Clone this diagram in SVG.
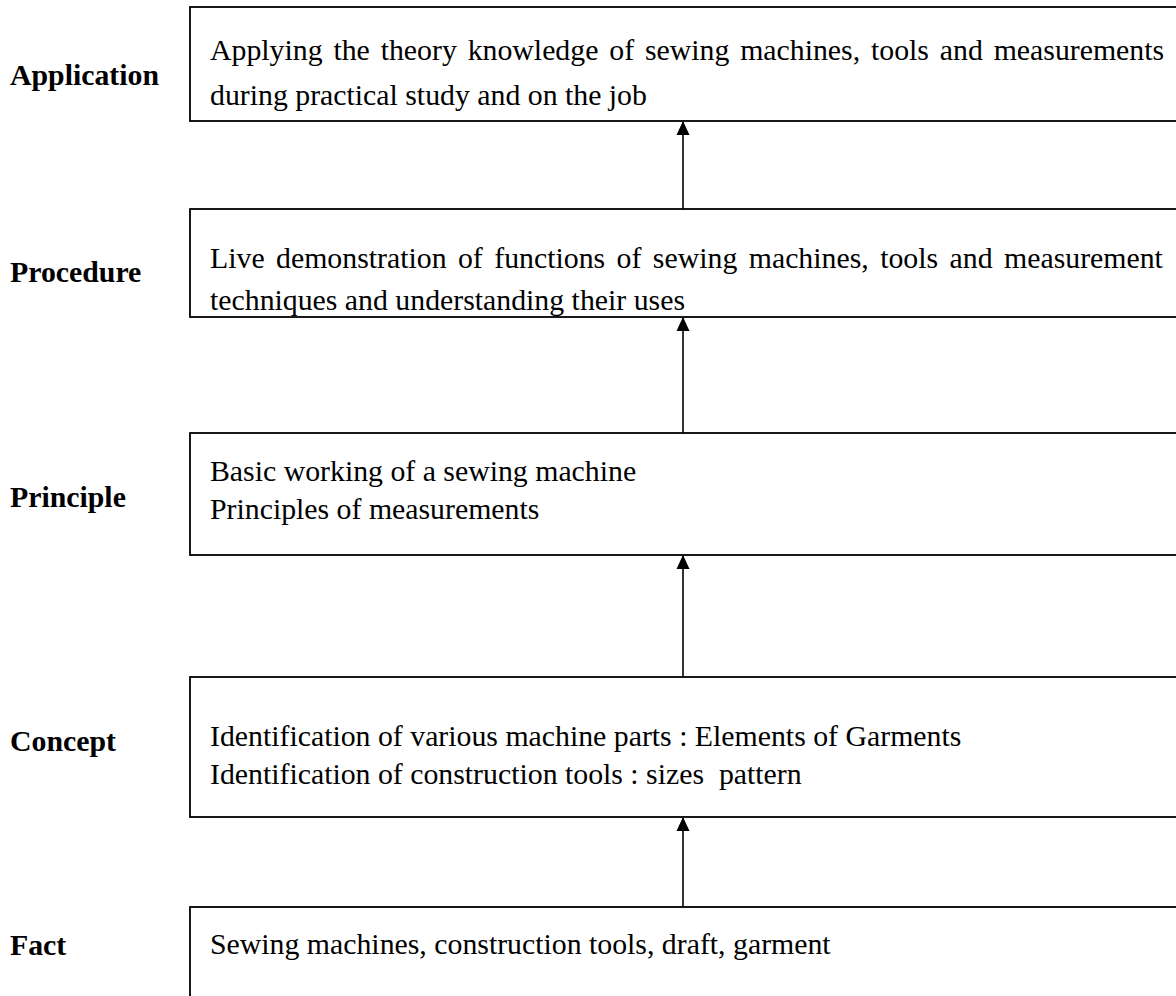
<svg xmlns="http://www.w3.org/2000/svg" width="1176" height="996" viewBox="0 0 1176 996">
<style>
.box{fill:#fff;stroke:#000;stroke-width:1.8}
.lbl{font-family:"Liberation Serif","Times New Roman",serif;font-weight:bold;font-size:29.8px;fill:#000}
.txt{font-family:"Liberation Serif","Times New Roman",serif;font-size:29.8px;fill:#000}
.conn{stroke:#000;stroke-width:1.6;fill:none}
</style>
<defs>
<marker id="ah" markerWidth="14" markerHeight="15" refX="14" refY="7" orient="auto" markerUnits="userSpaceOnUse" viewBox="0 0 15 14">
<path d="M0,0 L15,7 L0,14 z" fill="#000"/>
</marker>
<clipPath id="c2"><rect x="190" y="209" width="990" height="107"/></clipPath>
</defs>
<rect width="1176" height="996" fill="#fff"/>
<g id="application">
<rect class="box" x="190" y="7" width="1000" height="114"/>
<text class="lbl" x="10" y="85">Application</text>
<text class="txt" x="210" y="60" word-spacing="3.4">Applying the theory knowledge of sewing machines, tools and measurements</text>
<text class="txt" x="210" y="105">during practical study and on the job</text>
</g>
<g id="procedure">
<rect class="box" x="190" y="209" width="1000" height="108"/>
<text class="lbl" x="10" y="282">Procedure</text>
<g clip-path="url(#c2)">
<text class="txt" x="210" y="268" word-spacing="4.0">Live demonstration of functions of sewing machines, tools and measurement</text>
<text class="txt" x="210" y="310">techniques and understanding their uses</text>
</g>
</g>
<g id="principle">
<rect class="box" x="190" y="433" width="1000" height="122"/>
<text class="lbl" x="10" y="507">Principle</text>
<text class="txt" x="210" y="481">Basic working of a sewing machine</text>
<text class="txt" x="210" y="519">Principles of measurements</text>
</g>
<g id="concept">
<rect class="box" x="190" y="677" width="1000" height="140"/>
<text class="lbl" x="10" y="751">Concept</text>
<text class="txt" x="210" y="746">Identification of various machine parts : Elements of Garments</text>
<text class="txt" x="210" y="784" xml:space="preserve">Identification of construction tools : sizes  pattern</text>
</g>
<g id="fact">
<rect class="box" x="190" y="907" width="1000" height="120"/>
<text class="lbl" x="10" y="955">Fact</text>
<text class="txt" x="210" y="954">Sewing machines, construction tools, draft, garment</text>
</g>
<g id="connectors">
<line class="conn" x1="683" y1="209" x2="683" y2="122" marker-end="url(#ah)"/>
<line class="conn" x1="683" y1="433" x2="683" y2="318" marker-end="url(#ah)"/>
<line class="conn" x1="683" y1="677" x2="683" y2="556" marker-end="url(#ah)"/>
<line class="conn" x1="683" y1="907" x2="683" y2="818" marker-end="url(#ah)"/>
</g>
</svg>
